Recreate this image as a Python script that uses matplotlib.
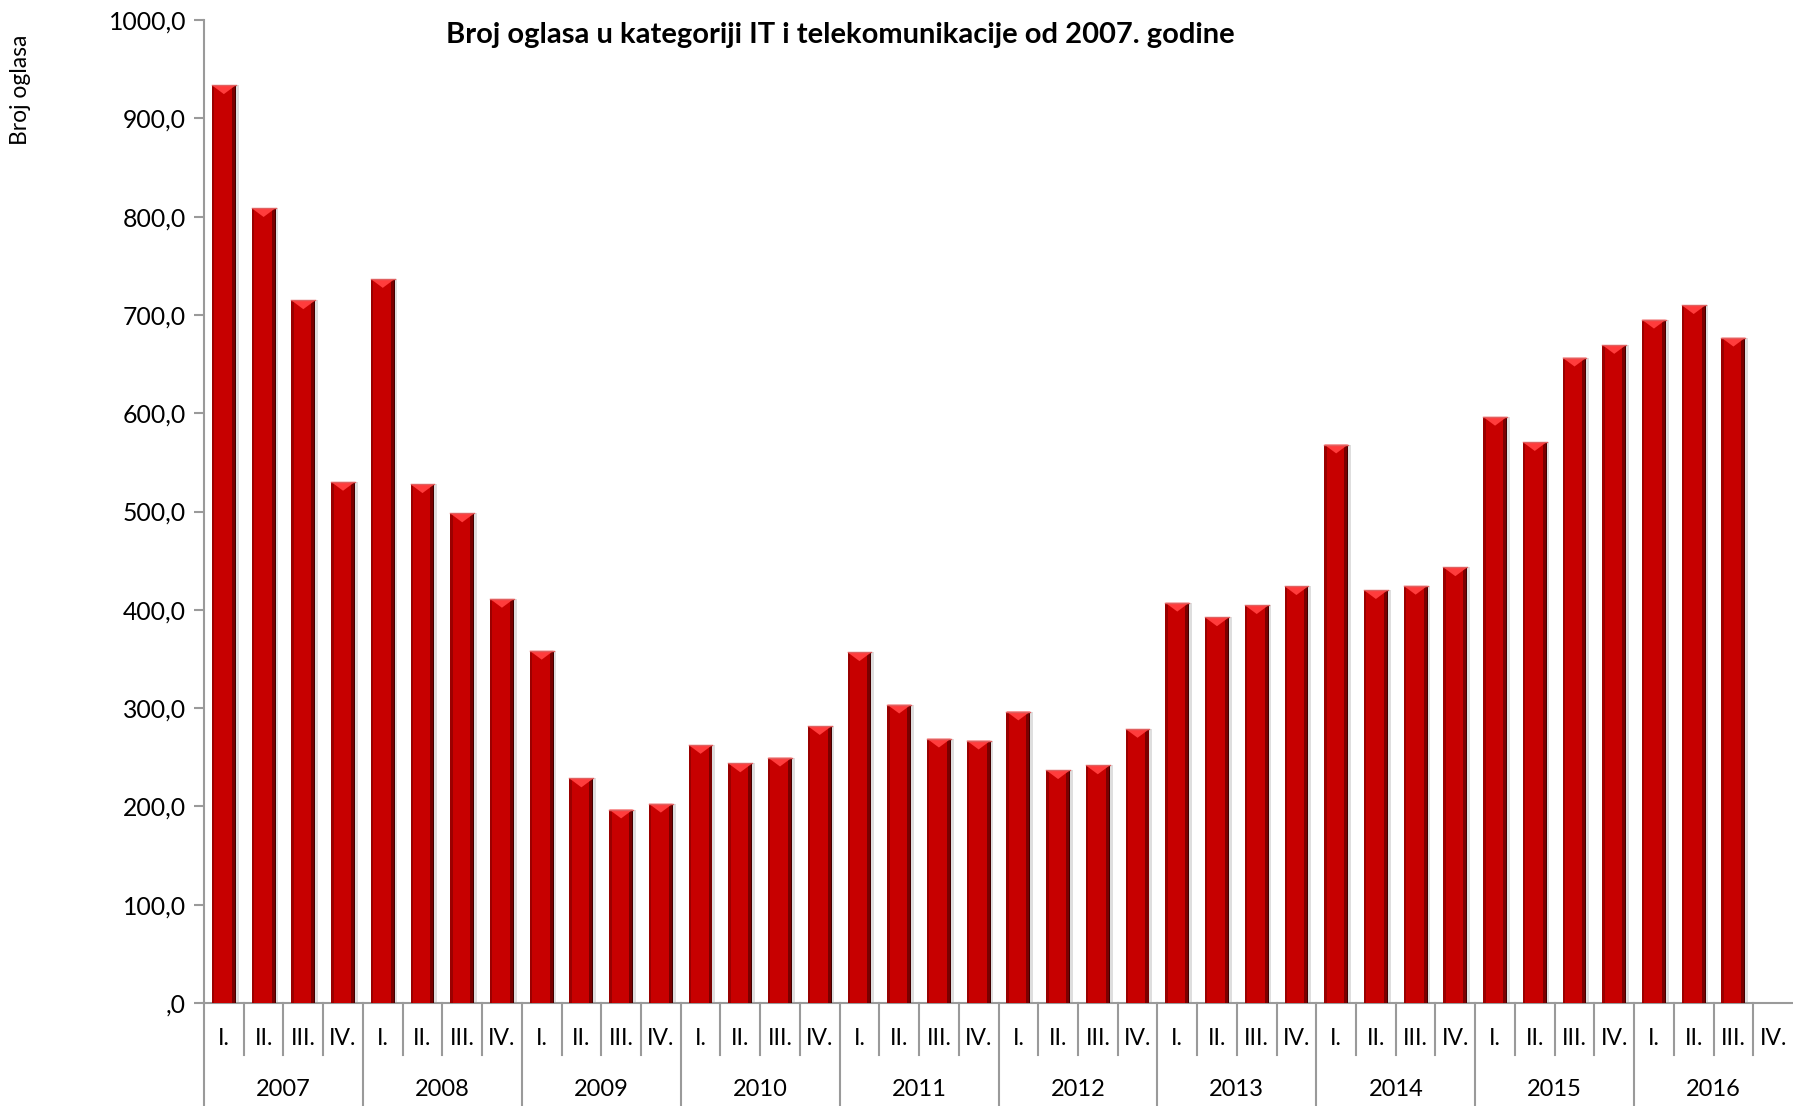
import numpy as np
import matplotlib
matplotlib.use("Agg")
import matplotlib.pyplot as plt
from matplotlib.patches import Polygon
from matplotlib.ticker import FuncFormatter

years = ["2007", "2008", "2009", "2010", "2011", "2012", "2013", "2014", "2015", "2016"]
quarters = ["I.", "II.", "III.", "IV."]
# broj oglasa po kvartalu (2016 IV. nema podatka)
oglasi = [933.6, 808.6, 714.8, 530.1,
          736.5, 527.7, 498.0, 411.1,
          358.3, 228.4, 196.8, 202.7,
          262.5, 243.7, 249.6, 281.7,
          356.8, 303.5, 268.9, 266.9,
          296.5, 236.8, 241.7, 278.8,
          407.2, 392.3, 404.7, 424.0,
          568.1, 420.0, 424.4, 443.2,
          596.3, 570.6, 656.5, 669.4,
          695.1, 709.9, 676.8]

title = "Broj oglasa u kategoriji IT i telekomunikacije od 2007. godine"
ylabel = "Broj oglasa"

fam = ["Lato", "DejaVu Sans"]
plt.rcParams["font.family"] = fam

n_slots = len(years) * len(quarters)
x = np.arange(len(oglasi))
bw = 0.6
grey = "#9a9a9a"

fig = plt.figure(figsize=(17.93, 11.06), dpi=100)
ax = fig.add_axes([204 / 1793, 103 / 1106, 1 - 204 / 1793, 983 / 1106])

# sjena, tijelo i rubovi stupaca
ax.bar(x + 0.07, oglasi, width=bw, color="#c8c8c8", alpha=0.6, zorder=2)
bars = ax.bar(x, oglasi, width=bw, color="#c70000", zorder=3)
ax.bar(x - bw / 2 + 0.03, oglasi, width=0.06, color="#9a0000", zorder=4)
ax.bar(x + bw / 2 - 0.05, oglasi, width=0.1, color="#7a0000", zorder=4)
ax.bar(x + bw / 2 - 0.012, oglasi, width=0.024, color="#420000", zorder=4)
for r in bars:
    x0, w, h = r.get_x(), r.get_width(), r.get_height()
    ax.add_patch(Polygon([(x0, h), (x0 + w, h), (x0 + w / 2, h - 9)],
                         closed=True, color="#ff3c3c", zorder=5, lw=0))
    ax.plot([x0, x0 + w], [h, h], color="#e06060", lw=1, zorder=6)

ax.set_xlim(-0.5, n_slots - 0.5)
ax.set_ylim(0, 1000)
ax.set_yticks(np.arange(0, 1001, 100))


def fmt(v, p):
    s = f"{v:.1f}".replace(".", ",")
    if s.startswith("0"):
        s = s[1:]
    return s


ax.yaxis.set_major_formatter(FuncFormatter(fmt))
ax.tick_params(axis="y", length=7, width=1.5, color=grey, labelsize=17.8, pad=6)
ax.set_xticks([])

for s in ["top", "right"]:
    ax.spines[s].set_visible(False)
for s in ["left", "bottom"]:
    ax.spines[s].set_color(grey)
    ax.spines[s].set_linewidth(1.5)

# kategorijska os: kvartali i godine
tr = ax.get_xaxis_transform()
for i in range(n_slots):
    edge = i - 0.5
    low = -0.105 if i % 4 == 0 else -0.053
    ax.plot([edge, edge], [0, low], color=grey, lw=1.5, transform=tr, clip_on=False)
    ax.text(i, -0.036, quarters[i % 4], transform=tr, ha="center", va="center",
            fontsize=16.5, color="black")
for k, yr in enumerate(years):
    ax.text(k * 4 + 1.5, -0.088, yr, transform=tr, ha="center", va="center",
            fontsize=17, color="black")

fig.text(840 / 1793, 1 - 35 / 1106, title, ha="center", va="center",
         fontsize=21, fontweight="bold")
fig.text(21 / 1793, 1 - 90 / 1106, ylabel, ha="center", va="center",
         rotation=90, fontsize=16.5)

fig.savefig("out.png", dpi=100)
